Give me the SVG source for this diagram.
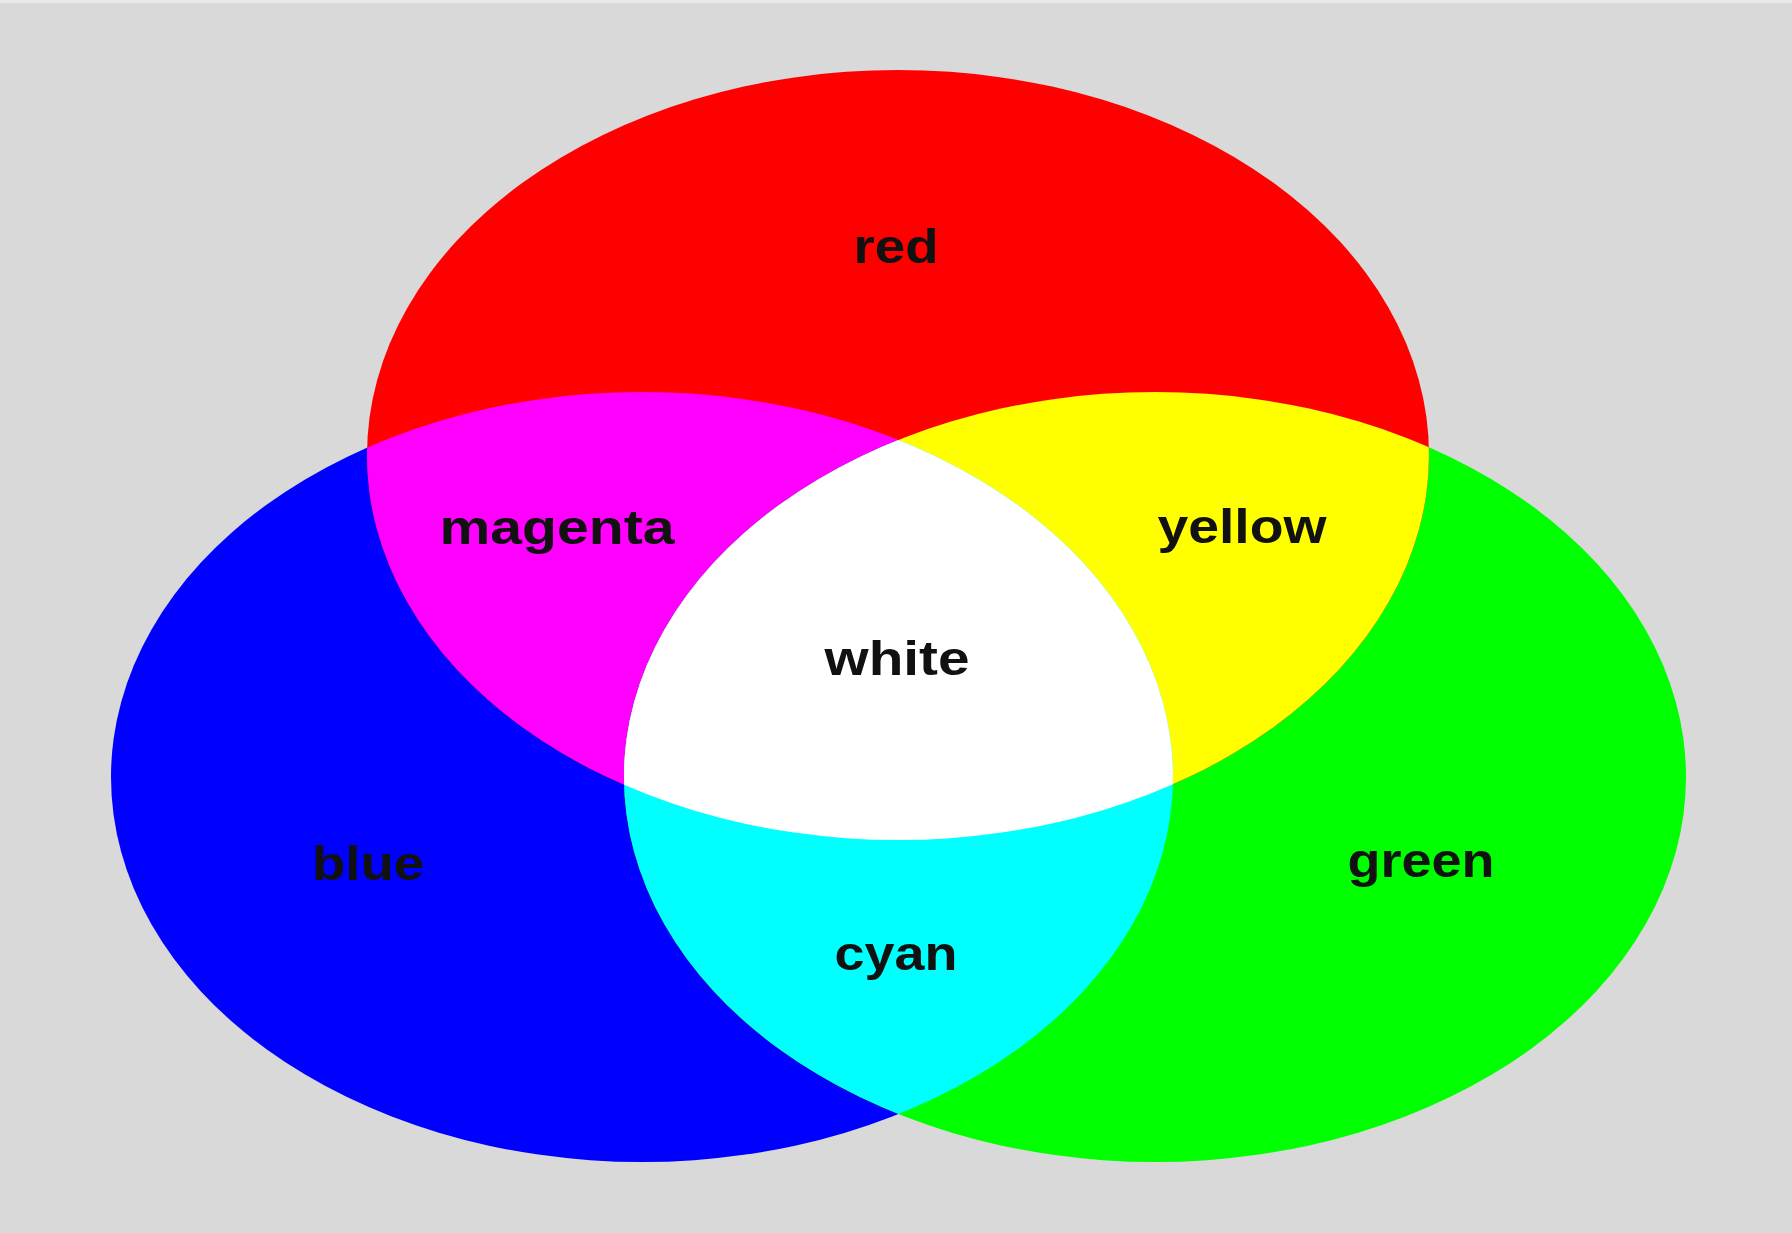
<svg xmlns="http://www.w3.org/2000/svg" xmlns:xlink="http://www.w3.org/1999/xlink" width="1792" height="1233" viewBox="0 0 1792 1233">
<style>
.lbl{font-family:"Liberation Sans",Arial,Helvetica,sans-serif;font-weight:bold;font-size:48px;fill:#111;text-anchor:middle}
</style>
<defs>
<ellipse id="eR" cx="898" cy="455" rx="531" ry="385"/>
<ellipse id="eB" cx="642" cy="777" rx="531" ry="385"/>
<ellipse id="eG" cx="1155" cy="777" rx="531" ry="385"/>
<clipPath id="cR"><ellipse cx="898" cy="455" rx="531" ry="385"/></clipPath>
<clipPath id="cB"><ellipse cx="642" cy="777" rx="531" ry="385"/></clipPath>
<clipPath id="cG"><ellipse cx="1155" cy="777" rx="531" ry="385"/></clipPath>
</defs>
<rect x="0" y="0" width="1792" height="1233" fill="#d9d9d9"/>
<rect x="0" y="0" width="1792" height="3" fill="#eaeaea"/>
<g id="blue"><use xlink:href="#eB" fill="#0000ff"/></g>
<g id="green"><use xlink:href="#eG" fill="#00ff00"/></g>
<g id="red"><use xlink:href="#eR" fill="#ff0000"/></g>
<g id="magenta" clip-path="url(#cR)"><use xlink:href="#eB" fill="#ff00ff"/></g>
<g id="yellow" clip-path="url(#cR)"><use xlink:href="#eG" fill="#ffff00"/></g>
<g id="cyan" clip-path="url(#cB)"><use xlink:href="#eG" fill="#00ffff"/></g>
<g id="white" clip-path="url(#cR)"><g clip-path="url(#cB)"><use xlink:href="#eG" fill="#ffffff"/></g></g>
<g id="labels">
<text class="lbl" x="896" y="263" textLength="85" lengthAdjust="spacingAndGlyphs">red</text>
<text class="lbl" x="557" y="544" textLength="235" lengthAdjust="spacingAndGlyphs">magenta</text>
<text class="lbl" x="1242" y="543" textLength="169" lengthAdjust="spacingAndGlyphs">yellow</text>
<text class="lbl" x="897" y="675" textLength="145" lengthAdjust="spacingAndGlyphs">white</text>
<text class="lbl" x="368" y="880" textLength="112" lengthAdjust="spacingAndGlyphs">blue</text>
<text class="lbl" x="1421" y="877" textLength="147" lengthAdjust="spacingAndGlyphs">green</text>
<text class="lbl" x="896" y="970" textLength="123" lengthAdjust="spacingAndGlyphs">cyan</text>
</g>
</svg>
